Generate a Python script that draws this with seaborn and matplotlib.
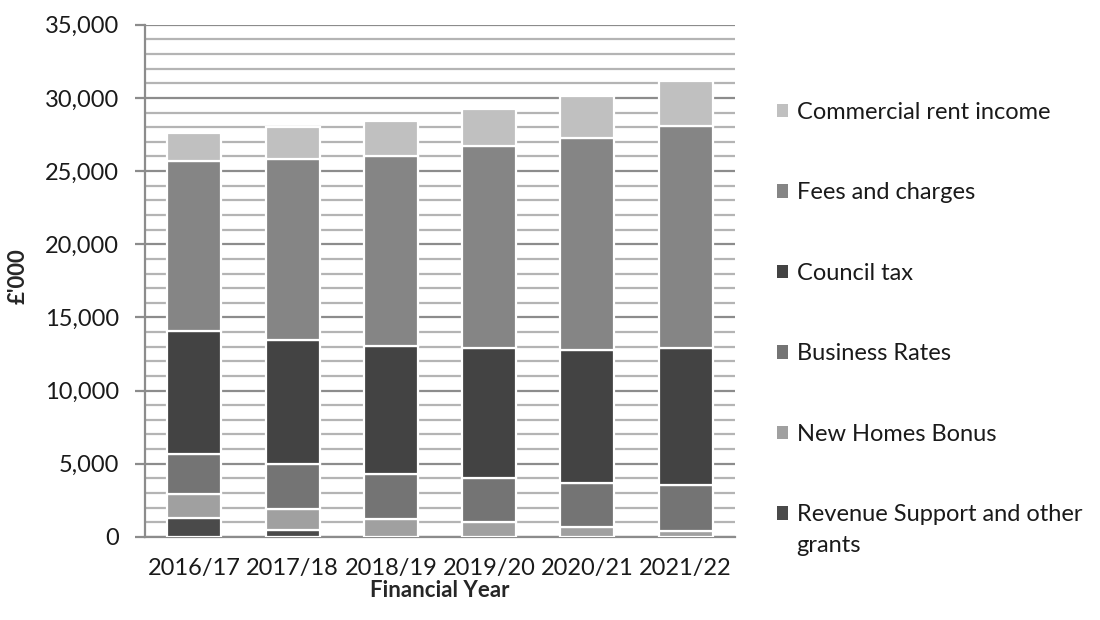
import numpy as np
import pandas as pd
import matplotlib
matplotlib.use('Agg')
import matplotlib.pyplot as plt
import seaborn as sns
from matplotlib.ticker import MultipleLocator, FuncFormatter
from matplotlib.patches import Patch

# ----------------------------------------------------------------------------
# Data (£'000)
# ----------------------------------------------------------------------------
years = ['2016/17', '2017/18', '2018/19', '2019/20', '2020/21', '2021/22']

revenue_support = [1300, 500, 0, 0, 0, 0]
new_homes_bonus = [1600, 1400, 1200, 1050, 650, 400]
business_rates = [2800, 3050, 3100, 3000, 3050, 3150]
council_tax = [8350, 8500, 8730, 8850, 9100, 9350]
fees_and_charges = [11650, 12400, 13020, 13800, 14450, 15150]
commercial_rent = [1900, 2150, 2400, 2550, 2850, 3100]

series_names = ['Revenue Support and other', 'New Homes Bonus', 'Business Rates',
                'Council tax', 'Fees and charges', 'Commercial rent income']
series_values = [revenue_support, new_homes_bonus, business_rates,
                 council_tax, fees_and_charges, commercial_rent]
series_colors = ['#4a4a4a', '#a0a0a0', '#747474', '#434343', '#858585', '#c0c0c0']

# ----------------------------------------------------------------------------
# Plot
# ----------------------------------------------------------------------------
sns.set_theme(style='white')
plt.rcParams['font.family'] = ['Lato', 'DejaVu Sans']

fig = plt.figure(figsize=(11, 6.2), dpi=100)
ax = fig.add_axes([0.132, 0.134, 0.536, 0.826])

bottom = np.zeros(len(years))
for name, vals, color in zip(series_names, series_values, series_colors):
    df = pd.DataFrame({'Year': years, 'Value': vals})
    sns.barplot(data=df, x='Year', y='Value', order=years, color=color,
                bottom=bottom, width=0.55, errorbar=None, ax=ax,
                edgecolor='white', linewidth=1.6, saturation=1, zorder=3)
    bottom = bottom + np.array(vals)

# Axes styling
ax.set_ylim(0, 35000)
ax.set_xlim(-0.5, len(years) - 0.5)
ax.yaxis.set_major_locator(MultipleLocator(5000))
ax.yaxis.set_minor_locator(MultipleLocator(1000))
ax.yaxis.set_major_formatter(FuncFormatter(lambda v, p: f'{int(v):,}'))
ax.grid(True, which='major', axis='y', color='#8c8c8c', linewidth=1.6, zorder=0)
ax.grid(True, which='minor', axis='y', color='#b4b4b4', linewidth=1.6, zorder=0)
ax.set_axisbelow(True)

for side in ['top', 'right']:
    ax.spines[side].set_visible(False)
ax.spines['left'].set_color('#8c8c8c')
ax.spines['left'].set_linewidth(1.6)
ax.spines['bottom'].set_color('#8c8c8c')
ax.spines['bottom'].set_linewidth(1.6)

ax.tick_params(axis='y', which='major', left=True, length=7, width=1.6,
               color='#8c8c8c', labelsize=17, pad=12, labelcolor='#1a1a1a')
ax.tick_params(axis='y', which='minor', left=False)
ax.tick_params(axis='x', bottom=False, labelsize=17, pad=9, labelcolor='#1a1a1a')

ax.set_xlabel('Financial Year', fontsize=16, fontweight='bold')
ax.set_ylabel("£'000", fontsize=16, fontweight='bold')
ax.xaxis.set_label_coords(0.5, -0.084)
ax.yaxis.set_label_coords(-0.198, 0.51)

# Legend (top entry = top of the stack)
handles = [Patch(facecolor=c, edgecolor='none') for c in series_colors]
leg = ax.legend(handles[::-1], series_names[::-1], loc='upper left',
                bbox_to_anchor=(1.055, 0.868), frameon=False, fontsize=17,
                handlelength=0.5, handleheight=0.5, handletextpad=0.35,
                labelspacing=2.52, borderaxespad=0)
for t in leg.get_texts():
    t.set_color('#1a1a1a')

# second line of the last legend label, hanging under its first line
ax.annotate('grants', xy=(0, 0), xycoords=leg.get_texts()[-1],
            xytext=(0, -7), textcoords='offset points', ha='left', va='top',
            fontsize=17, color='#1a1a1a', zorder=10, annotation_clip=False)

plt.savefig('out.png', dpi=100, facecolor='white')
